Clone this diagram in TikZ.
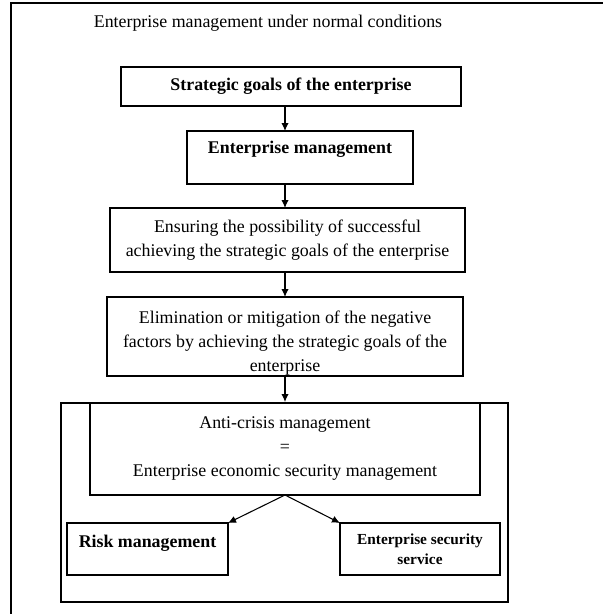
\documentclass[tikz,border=0pt]{standalone}
\usepackage{fontspec}
\setmainfont{Liberation Serif}
\usepackage{tikz}
\usetikzlibrary{positioning, arrows.meta}

\begin{document}
\begin{tikzpicture}[
  x=0.75pt, y=-0.75pt,
  box/.style={draw, rectangle, line width=0.8pt, inner sep=0pt, outer sep=0pt,
              align=center, font=\fontsize{13.4}{18}\selectfont},
  flow/.style={->, line width=0.8pt},
  >={Latex[length=6pt, width=5.5pt]}
]
  \useasboundingbox (0,0) rectangle (603,614);

  % --- Outer frame (runs off the page on the right and bottom) ---
  \begin{scope}
    \clip (0,0) rectangle (603,614);
    \draw[line width=1pt] (11,620) -- (11,3) -- (610,3);
  \end{scope}
  \node[font=\fontsize{13.4}{18}\selectfont] (title) at (268,23)
    {Enterprise management under normal conditions};

  % --- Main chain ---
  \coordinate (axis) at (285,0);
  \node[box, minimum width=255pt, minimum height=29.25pt] (goals) at (291,86.5)
    {\textbf{Strategic goals of the enterprise}};
  \node[box, minimum width=169.5pt, minimum height=39.75pt] (mgmt) at (300,157.5)
    {\textbf{Enterprise management}\\[-2pt]\mbox{}};
  \node[box, minimum width=266.25pt, minimum height=48pt] (ensure) at (287.5,240)
    {Ensuring the possibility of successful\\achieving the strategic goals of the enterprise};
  % the last line sits low and runs into the border
  \node[box, minimum width=267pt, minimum height=59.25pt] (elim) at (285,336.5)
    {\rule{0pt}{20pt}Elimination or mitigation of the negative\\factors by achieving the strategic goals of the\\enterprise};

  \draw[flow] (goals.south -| axis) -- (mgmt.north -| axis);
  \draw[flow] (mgmt.south -| axis) -- (ensure.north -| axis);
  \draw[flow] (ensure.south -| axis) -- (elim.north -| axis);
  \draw[flow] (elim.south -| axis) -- ++(0,26) coordinate (crisis in);

  % --- Anti-crisis block ---
  \node[box, minimum width=335.25pt, minimum height=149.25pt] (container) at (284.5,502.5) {};
  \node[box, minimum width=292.5pt, minimum height=69pt] (anticrisis) at (285,449)
    {Anti-crisis management\\=\\Enterprise economic security management};
  \node[box, minimum width=120.75pt, minimum height=39pt] (risk) at (147.5,549)
    {\textbf{Risk management}\\[-6pt]\mbox{}};
  \node[box, minimum width=120pt, minimum height=39pt,
        font=\fontsize{11.5}{15}\selectfont\bfseries] (service) at (420,549)
    {Enterprise security\\service};

  \draw[flow] (anticrisis.south) -- (risk.north east);
  \draw[flow] (anticrisis.south) -- (service.north west);
\end{tikzpicture}
\end{document}
